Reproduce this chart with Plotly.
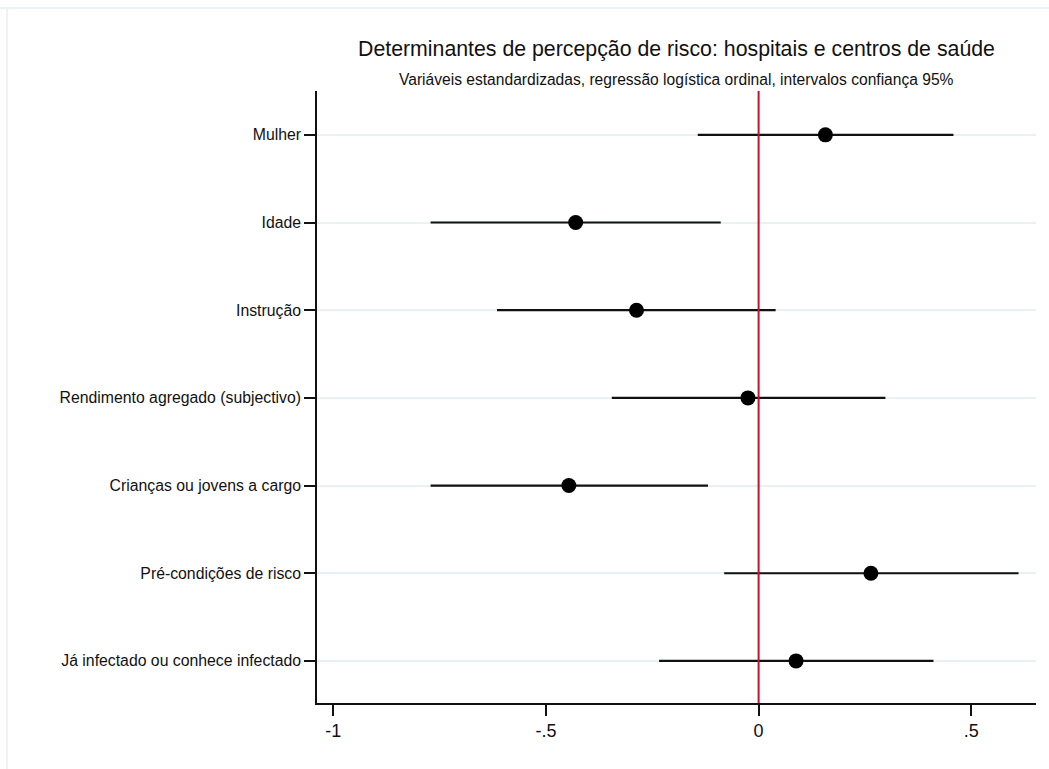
import plotly.graph_objects as go

categories = [
    "Mulher",
    "Idade",
    "Instrução",
    "Rendimento agregado (subjectivo)",
    "Crianças ou jovens a cargo",
    "Pré-condições de risco",
    "Já infectado ou conhece infectado",
]
estimate = [0.157, -0.430, -0.287, -0.025, -0.446, 0.264, 0.088]
ci_low = [-0.143, -0.771, -0.615, -0.345, -0.771, -0.081, -0.234]
ci_high = [0.458, -0.089, 0.040, 0.298, -0.119, 0.611, 0.411]
x_tickvals = [-1, -0.5, 0, 0.5]
x_ticktext = ["-1", "-.5", "0", ".5"]

title = "Determinantes de percepção de risco: hospitais e centros de saúde"
subtitle = "Variáveis estandardizadas, regressão logística ordinal, intervalos confiança 95%"

pos = list(range(1, len(categories) + 1))

# CI segments
seg_x, seg_y = [], []
for p, lo, hi in zip(pos, ci_low, ci_high):
    seg_x += [lo, hi, None]
    seg_y += [p, p, None]

FONT = "Liberation Sans, Arial, Helvetica, sans-serif"

fig = go.Figure()
fig.add_trace(go.Scatter(
    x=seg_x, y=seg_y, mode="lines",
    line=dict(color="#111111", width=2.2),
    hoverinfo="skip", showlegend=False,
))
fig.add_trace(go.Scatter(
    x=estimate, y=pos, mode="markers",
    marker=dict(color="#000000", size=15, line=dict(width=0)),
    showlegend=False,
))

# reference line at zero
fig.add_shape(type="line", xref="x", yref="paper", x0=0, x1=0, y0=0, y1=1,
              line=dict(color="#c8102e", width=2), layer="above")

# faint outer frame (top and left edges)
fig.add_shape(type="line", xref="paper", yref="paper",
              x0=-317/719, x1=1.05, y0=(703-8)/612, y1=(703-8)/612,
              line=dict(color="#edf2f4", width=2), layer="below")
fig.add_shape(type="line", xref="paper", yref="paper",
              x0=-(317-7)/719, x1=-(317-7)/719, y0=-0.2, y1=(703-8)/612,
              line=dict(color="#edf2f4", width=2), layer="below")

fig.add_annotation(text=title, xref="paper", yref="paper", x=0.5, y=(703-49)/612,
                   showarrow=False, xanchor="center", yanchor="middle",
                   font=dict(family=FONT, size=21.3, color="#111111"))
fig.add_annotation(text=subtitle, xref="paper", yref="paper", x=0.5, y=(703-79)/612,
                   showarrow=False, xanchor="center", yanchor="middle",
                   font=dict(family=FONT, size=15.6, color="#111111"))

fig.update_layout(
    width=1049, height=769,
    margin=dict(l=317, r=13, t=91, b=66),
    paper_bgcolor="white", plot_bgcolor="white",
    font=dict(family=FONT, color="#111111"),
    xaxis=dict(
        range=[-1.038, 0.652], tickvals=x_tickvals, ticktext=x_ticktext,
        showgrid=False, zeroline=False,
        showline=True, linecolor="#111111", linewidth=1.6,
        ticks="outside", ticklen=11, tickwidth=1.6, tickcolor="#111111",
        tickfont=dict(family=FONT, size=18, color="#111111"),
    ),
    yaxis=dict(
        range=[7.48, 0.5], tickvals=pos, ticktext=categories,
        showgrid=True, gridcolor="#eaf1f3", gridwidth=2, zeroline=False,
        showline=True, linecolor="#111111", linewidth=1.6,
        ticks="outside", ticklen=11, tickwidth=1.6, tickcolor="#111111",
        tickfont=dict(family=FONT, size=15.8, color="#111111"),
    ),
)

fig.write_html("out.html")
